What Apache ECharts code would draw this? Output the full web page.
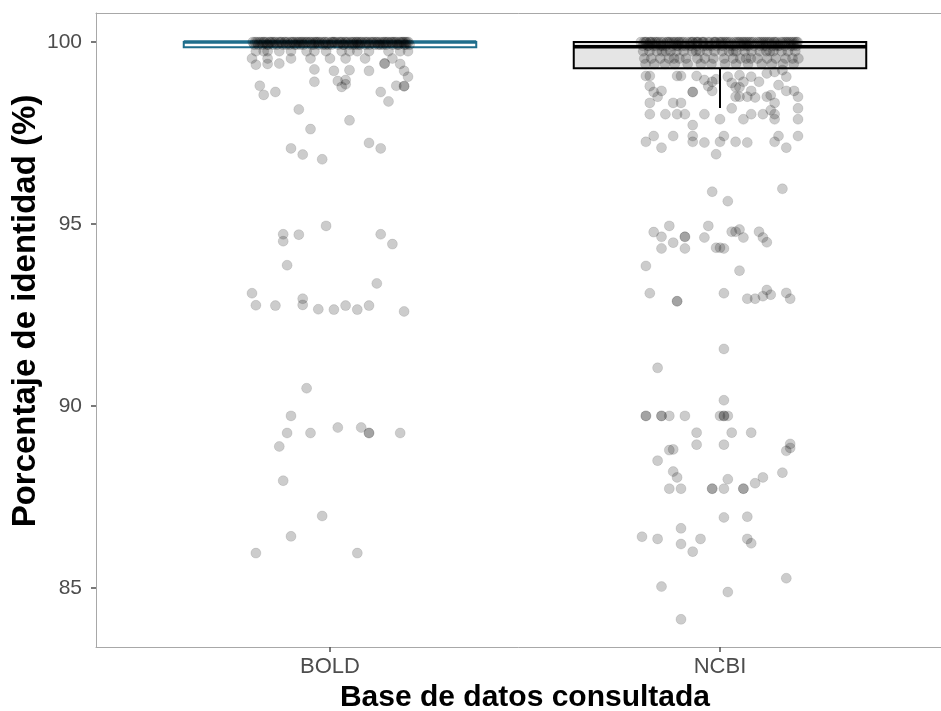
<!DOCTYPE html>
<html>
<head>
<meta charset="utf-8">
<script src="https://cdn.jsdelivr.net/npm/echarts@6/dist/echarts.min.js"></script>
<style>
  html, body { margin: 0; padding: 0; background: #fff; overflow: hidden; }
  #chart { width: 941px; height: 711px; }
</style>
</head>
<body>
<div id="chart"></div>
<script>
  // categories and box statistics (min, Q1, median, Q3, max)
  const categories = ['BOLD', 'NCBI'];
  const yTicks = [85, 90, 95, 100];
  const boxStats = [
    [99.86, 99.86, 100, 100, 100],
    [98.19, 99.28, 99.87, 100, 100]
  ];

  // jitter offsets (category units) of the points sitting at the top
  const boldAt100 = [-0.198, -0.187, -0.176, -0.171, -0.163, -0.152, -0.148, -0.139, -0.131, -0.124, -0.117, -0.109,
    -0.101, -0.094, -0.088, -0.079, -0.071, -0.066, -0.058, -0.049, -0.043, -0.035, -0.027, -0.021, -0.012, -0.006,
    0.003, 0.009, 0.017, 0.024, 0.031, 0.038, 0.046, 0.053, 0.061, 0.067, 0.074, 0.082, 0.089, 0.097, 0.104, 0.112,
    0.118, 0.127, 0.133, 0.141, 0.149, 0.156, 0.163, 0.171, 0.178, 0.186, 0.193, 0.201, -0.192, -0.168, -0.143,
    -0.114, -0.083, -0.061, -0.038, -0.015, 0.012, 0.028, 0.057, 0.079, 0.093, 0.121, 0.138, 0.159, 0.182, 0.197,
    -0.181, -0.155, -0.127, -0.097, -0.074, -0.052, -0.031, 0.006, 0.041, 0.069, 0.108, 0.146, 0.167, 0.189];
  const boldAt99_93 = [-0.194, -0.173, -0.158, -0.136, -0.121, -0.103, -0.086, -0.068, -0.047, -0.029, -0.011, 0.004,
    0.021, 0.036, 0.049, 0.064, 0.077, 0.091, 0.115, 0.129, 0.144, 0.161, 0.176, 0.191, 0.204, -0.184, -0.146,
    -0.112, -0.076, -0.041, -0.004, 0.033, 0.072, 0.101, 0.136, 0.172, 0.195, -0.162, -0.091, -0.018, 0.058, 0.124];
  const boldAt99_75 = [-0.19, -0.17, -0.16, -0.13, -0.10, -0.06, -0.04, -0.01, 0.03, 0.05, 0.07, 0.10, 0.15, 0.18, 0.20];
  const boldAt99_55 = [-0.20, -0.16, -0.10, -0.05, 0.00, 0.04, 0.09, 0.16];

  const ncbiAt100 = [-0.203, -0.195, -0.189, -0.180, -0.174, -0.167, -0.158, -0.151, -0.145, -0.136, -0.129, -0.123,
    -0.113, -0.107, -0.098, -0.093, -0.084, -0.076, -0.070, -0.061, -0.056, -0.046, -0.041, -0.031, -0.026, -0.016,
    -0.011, -0.002, 0.006, 0.012, 0.021, 0.027, 0.036, 0.042, 0.051, 0.057, 0.066, 0.071, 0.081, 0.086, 0.096,
    0.101, 0.111, 0.116, 0.126, 0.131, 0.141, 0.146, 0.156, 0.161, 0.171, 0.176, 0.186, 0.191, 0.199, -0.191,
    -0.163, -0.133, -0.104, -0.071, -0.044, -0.013, 0.016, 0.047, 0.076, 0.106, 0.138, 0.167, 0.196, -0.178,
    -0.118, -0.058, 0.002, 0.061, 0.121, 0.181];
  const ncbiAt99_9 = [-0.198, -0.183, -0.171, -0.152, -0.139, -0.121, -0.108, -0.089, -0.073, -0.059, -0.043, -0.028,
    -0.009, 0.008, 0.024, 0.039, 0.054, 0.069, 0.087, 0.103, 0.118, 0.134, 0.149, 0.166, 0.182, 0.197, -0.186,
    -0.147, -0.111, -0.078, -0.036, 0.002, 0.031, 0.074, 0.112, 0.153, 0.188, -0.164, -0.097, -0.021, 0.061, 0.142];
  const ncbiAt99_75 = [-0.197, -0.181, -0.162, -0.149, -0.127, -0.112, -0.093, -0.071, -0.052, -0.033, -0.014, 0.006,
    0.023, 0.042, 0.063, 0.081, 0.102, 0.119, 0.137, 0.158, 0.174, 0.193, -0.139, -0.061, 0.034, 0.128];
  const ncbiAt99_55 = [-0.194, -0.176, -0.153, -0.131, -0.104, -0.087, -0.058, -0.039, -0.017, 0.011, 0.034, 0.052,
    0.079, 0.096, 0.121, 0.143, 0.168, 0.186, 0.201, -0.118, 0.067];
  const ncbiAt99_4 = [-0.191, -0.168, -0.141, -0.116, -0.083, -0.049, -0.022, 0.013, 0.041, 0.072, 0.107, 0.133,
    0.161, 0.189];

  // remaining points: [jitter offset, identity %]
  const boldPoints = [
    [-0.18, 98.80], [-0.17, 98.55], [-0.14, 98.63], [-0.08, 98.15], [-0.04, 98.91], [-0.05, 97.61], [0.05, 97.85],
    [-0.10, 97.08], [-0.07, 96.91], [-0.02, 96.78], [0.10, 97.23], [0.13, 97.08], [0.02, 98.93], [0.04, 98.96],
    [0.03, 98.77], [0.04, 98.84], [0.13, 98.63], [0.15, 98.37], [0.17, 98.80], [0.19, 98.79], [0.19, 98.79],
    [0.20, 99.05], [0.19, 99.21], [-0.04, 99.25], [0.01, 99.21], [0.05, 99.23], [0.10, 99.21], [-0.19, 99.38],
    [-0.16, 99.40], [-0.13, 99.41], [0.14, 99.41], [0.14, 99.41], [0.18, 99.40],
    [-0.01, 94.95], [-0.12, 94.72], [-0.12, 94.53], [-0.08, 94.71], [0.13, 94.72], [0.16, 94.45], [-0.11, 93.87],
    [0.12, 93.37], [-0.20, 93.10], [-0.19, 92.77], [-0.14, 92.76], [-0.07, 92.95], [-0.07, 92.78], [-0.03, 92.66],
    [0.01, 92.65], [0.04, 92.76], [0.07, 92.65], [0.10, 92.76], [0.19, 92.60],
    [-0.06, 90.49], [-0.10, 89.73], [-0.11, 89.26], [-0.05, 89.26], [0.02, 89.41], [0.08, 89.41], [0.10, 89.26],
    [0.10, 89.26], [0.18, 89.26], [-0.13, 88.89], [-0.12, 87.95], [-0.02, 86.98], [-0.10, 86.42], [-0.19, 85.96],
    [0.07, 85.96]
  ];
  const ncbiPoints = [
    [-0.19, 99.07], [-0.18, 99.07], [-0.11, 99.07], [-0.10, 99.07], [-0.06, 99.07], [-0.18, 98.79], [-0.17, 98.63],
    [-0.15, 98.66], [-0.16, 98.50], [-0.18, 98.33], [-0.12, 98.33], [-0.10, 98.33], [-0.07, 98.63], [-0.07, 98.63],
    [-0.04, 98.96], [-0.02, 98.91], [-0.01, 98.98], [-0.03, 98.79], [-0.02, 98.66], [0.02, 99.05], [0.03, 98.88],
    [0.05, 99.09], [0.04, 98.76], [0.05, 98.76], [0.06, 98.91], [0.08, 99.05], [0.10, 98.91], [0.08, 98.66],
    [0.04, 98.50], [0.05, 98.50], [0.07, 98.50], [0.09, 98.48], [0.12, 99.14], [0.14, 99.18], [0.15, 98.82],
    [0.17, 99.05], [0.16, 99.23], [0.12, 98.50], [0.14, 98.33], [0.13, 98.54], [0.17, 98.66], [0.19, 98.66],
    [0.20, 98.50], [0.20, 98.18], [0.20, 97.88], [0.20, 97.42], [-0.18, 98.02], [-0.14, 98.02], [-0.11, 98.02],
    [-0.09, 98.02], [-0.04, 98.02], [0.03, 98.18], [0.00, 97.88], [0.06, 97.88], [0.08, 98.02], [0.11, 98.02],
    [0.13, 98.13], [0.14, 98.02], [0.14, 97.88], [-0.07, 97.72], [-0.19, 97.26], [-0.17, 97.42], [-0.15, 97.10],
    [-0.12, 97.42], [-0.07, 97.26], [-0.07, 97.42], [-0.04, 97.24], [0.00, 97.26], [0.01, 97.42], [0.04, 97.26],
    [0.07, 97.24], [-0.01, 96.92], [0.14, 97.26], [0.15, 97.42], [0.17, 97.10], [-0.02, 95.89], [0.16, 95.97],
    [0.02, 95.63], [-0.13, 94.95], [-0.17, 94.78], [-0.15, 94.65], [-0.09, 94.65], [-0.09, 94.65], [-0.12, 94.49],
    [-0.15, 94.33], [-0.09, 94.33], [-0.03, 94.95], [-0.04, 94.63], [-0.01, 94.35], [0.00, 94.35], [0.01, 94.33],
    [0.03, 94.79], [0.04, 94.79], [0.05, 94.85], [0.06, 94.63], [0.10, 94.79], [0.11, 94.63], [0.12, 94.50],
    [-0.19, 93.85], [0.05, 93.72], [-0.18, 93.10], [-0.11, 92.88], [-0.11, 92.88], [0.01, 93.10], [0.07, 92.95],
    [0.09, 92.95], [0.11, 93.02], [0.12, 93.19], [0.13, 93.06], [0.17, 93.11], [0.18, 92.95],
    [0.01, 91.57], [-0.16, 91.05], [0.01, 90.16], [-0.19, 89.73], [-0.19, 89.73], [-0.15, 89.73], [-0.15, 89.73],
    [-0.13, 89.73], [-0.09, 89.73], [0.00, 89.73], [0.01, 89.73], [0.01, 89.73], [0.02, 89.73], [-0.06, 89.27],
    [0.03, 89.27], [0.08, 89.27], [-0.06, 88.94], [0.01, 88.94], [-0.13, 88.79], [-0.12, 88.81], [-0.16, 88.50],
    [0.18, 88.96], [0.18, 88.85], [0.17, 88.77], [-0.12, 88.20], [-0.11, 88.04], [-0.13, 87.73], [-0.10, 87.73],
    [-0.02, 87.73], [-0.02, 87.73], [0.01, 87.73], [0.06, 87.73], [0.06, 87.73], [0.02, 87.99], [0.09, 87.88],
    [0.11, 88.04], [0.16, 88.17], [0.01, 86.94], [0.07, 86.96], [-0.10, 86.64], [-0.20, 86.41], [-0.16, 86.35],
    [-0.10, 86.21], [-0.05, 86.35], [-0.07, 86.00], [0.07, 86.35], [0.08, 86.23], [0.17, 85.27], [-0.15, 85.04],
    [0.02, 84.89], [-0.10, 84.14]
  ];

  const boxLine = ['#1f6e8c', '#000000'];
  const boxFill = ['#ffffff', '#e5e5e5'];
  const frameColor = '#a8a8a8';

  function place(catIndex, pairs) {
    return pairs.map(p => [catIndex + 1 + p[0], p[1]]);
  }
  function row(catIndex, offsets, value) {
    return offsets.map(o => [catIndex + 1 + o, value]);
  }

  const jitterData = [].concat(
    row(0, boldAt100, 100), row(0, boldAt99_93, 99.93), row(0, boldAt99_75, 99.75), row(0, boldAt99_55, 99.55),
    place(0, boldPoints),
    row(1, ncbiAt100, 100), row(1, ncbiAt99_9, 99.9), row(1, ncbiAt99_75, 99.75), row(1, ncbiAt99_55, 99.55),
    row(1, ncbiAt99_4, 99.4), place(1, ncbiPoints)
  );

  const chart = echarts.init(document.getElementById('chart'), null, { renderer: 'canvas' });

  const option = {
    animation: false,
    backgroundColor: '#ffffff',
    textStyle: { fontFamily: 'Liberation Sans, Arial, sans-serif' },
    grid: {
      left: 96, right: -13, top: 13, bottom: 64,
      outerBoundsMode: 'none',
      containLabel: false,
      show: false
    },
    xAxis: [
      {
        type: 'value',
        min: 0.4, max: 2.6,
        name: 'Base de datos consultada',
        nameLocation: 'middle',
        nameGap: 36,
        nameMoveOverlap: false,
        nameTextStyle: { fontSize: 30, fontWeight: 'bold', color: '#000' },
        splitLine: { show: false },
        axisLine: { show: true, onZero: false, lineStyle: { color: frameColor, width: 1 } },
        axisTick: { show: true, length: 5, customValues: [1, 2], lineStyle: { color: '#4d4d4d', width: 1.5 } },
        axisLabel: {
          customValues: [1, 2],
          fontSize: 22, color: '#4d4d4d', margin: 9,
          formatter: v => categories[Math.round(v) - 1]
        }
      },
      {
        type: 'value',
        position: 'top',
        min: 0.4, max: 2.6,
        splitLine: { show: false },
        axisLine: { show: true, onZero: false, lineStyle: { color: frameColor, width: 1 } },
        axisTick: { show: false },
        axisLabel: { show: false }
      }
    ],
    yAxis: {
      type: 'value',
      min: 83.38, max: 100.8,
      name: 'Porcentaje de identidad (%)',
      nameLocation: 'middle',
      nameGap: 54,
      nameMoveOverlap: false,
      nameTextStyle: { fontSize: 33, fontWeight: 'bold', color: '#000', padding: [0, 0, 0, 38] },
      splitLine: { show: false },
      axisLine: { show: true, onZero: false, lineStyle: { color: frameColor, width: 1 } },
      axisTick: { show: true, length: 5, customValues: yTicks, lineStyle: { color: '#4d4d4d', width: 1.5 } },
      axisLabel: { customValues: yTicks, fontSize: 21, color: '#4d4d4d', margin: 14 }
    },
    series: [
      {
        type: 'custom',
        z: 1,
        data: boxStats.map((s, i) => [i + 1].concat(s)),
        renderItem: function (params, api) {
          const i = params.dataIndex;
          const x = api.value(0);
          const lo = api.value(1), q1 = api.value(2), med = api.value(3), q3 = api.value(4), hi = api.value(5);
          const half = 0.375;
          const tl = api.coord([x - half, q3]);
          const br = api.coord([x + half, q1]);
          const c = api.coord([x, lo]);
          const cq1 = api.coord([x, q1]);
          const cq3 = api.coord([x, q3]);
          const chi = api.coord([x, hi]);
          const mL = api.coord([x - half, med]);
          const mR = api.coord([x + half, med]);
          const stroke = boxLine[i];
          return {
            type: 'group',
            children: [
              { type: 'line', shape: { x1: c[0], y1: c[1], x2: cq1[0], y2: cq1[1] },
                style: { stroke: stroke, lineWidth: 2 } },
              { type: 'line', shape: { x1: chi[0], y1: chi[1], x2: cq3[0], y2: cq3[1] },
                style: { stroke: stroke, lineWidth: 2 } },
              { type: 'rect', shape: { x: tl[0], y: tl[1], width: br[0] - tl[0], height: br[1] - tl[1] },
                style: { fill: boxFill[i], stroke: stroke, lineWidth: 2 } },
              { type: 'line', shape: { x1: mL[0], y1: mL[1], x2: mR[0], y2: mR[1] },
                style: { stroke: stroke, lineWidth: 3.5 } }
            ]
          };
        }
      },
      {
        type: 'scatter',
        z: 2,
        symbol: 'circle',
        symbolSize: 10,
        data: jitterData,
        itemStyle: { color: 'rgba(0,0,0,0.25)', borderColor: 'rgba(0,0,0,0.12)', borderWidth: 1 },
        emphasis: { disabled: true }
      }
    ]
  };

  chart.setOption(option);
</script>
</body>
</html>
